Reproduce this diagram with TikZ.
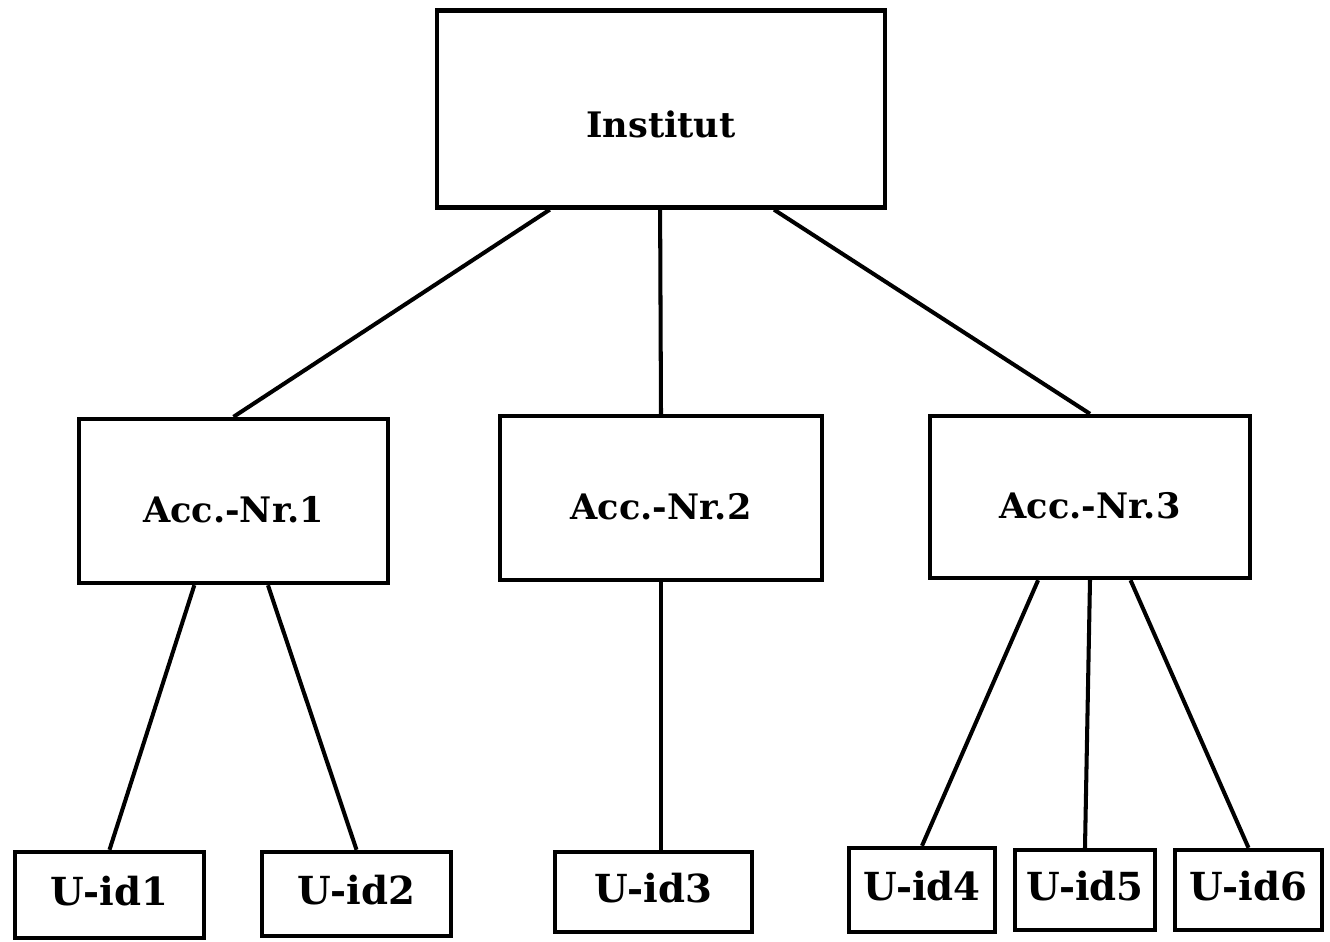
\documentclass[tikz,border=0pt]{standalone}
\usepackage{fontspec}
\setmainfont{DejaVu Serif}
\usetikzlibrary{calc}

\newcommand{\boxtext}[2]{\raisebox{#1}[0pt][0pt]{#2}}

\tikzset{
  box/.style={draw,line width=2.5pt,inner sep=0pt,font=\fontsize{20}{24}\selectfont\bfseries},
  uidbox/.style={box,font=\fontsize{22}{26}\selectfont\bfseries},
  link/.style={line width=2.3pt}
}

\begin{document}
\begin{tikzpicture}[x=0.02cm,y=-0.02cm]
   \useasboundingbox (0,0) rectangle (1330,941);
   \node[box] (inst) [minimum width=8.96cm,minimum height=3.94cm] at (661,109) {\boxtext{-0.56cm}{Institut}};
   \node[box] (acc1) [minimum width=6.18cm,minimum height=3.28cm] at (233.5,501) {\boxtext{-0.42cm}{Acc.-Nr.1}};
   \node[box] (acc2) [minimum width=6.44cm,minimum height=3.28cm] at (661,498) {\boxtext{-0.42cm}{Acc.-Nr.2}};
   \node[box] (acc3) [minimum width=6.40cm,minimum height=3.24cm] at (1090,497) {\boxtext{-0.42cm}{Acc.-Nr.3}};
   \node[uidbox] (uid1) [minimum width=3.78cm,minimum height=1.72cm] at (109.5,895) {\boxtext{-0.2cm}{U-id1}};
   \node[uidbox] (uid2) [minimum width=3.78cm,minimum height=1.68cm] at (356.5,894) {\boxtext{-0.2cm}{U-id2}};
   \node[uidbox] (uid3) [minimum width=3.94cm,minimum height=1.60cm] at (653.5,892) {\boxtext{-0.2cm}{U-id3}};
   \node[uidbox] (uid4) [minimum width=2.92cm,minimum height=1.68cm] at (922,890) {\boxtext{-0.2cm}{U-id4}};
   \node[uidbox] (uid5) [minimum width=2.80cm,minimum height=1.60cm] at (1085,890) {\boxtext{-0.2cm}{U-id5}};
   \node[uidbox] (uid6) [minimum width=2.94cm,minimum height=1.60cm] at (1248.5,890) {\boxtext{-0.2cm}{U-id6}};
   % Institut to accounts
   \draw[link] ($(inst.south west)!0.254!(inst.south east)$) -- (acc1.north);
   \draw[link] ($(inst.south west)!0.498!(inst.south east)$) -- (acc2.north);
   \draw[link] ($(inst.south west)!0.75!(inst.south east)$) -- (acc3.north);
   % accounts to users
   \draw[link] ($(acc1.south west)!0.375!(acc1.south east)$) -- (uid1.north);
   \draw[link] ($(acc1.south west)!0.61!(acc1.south east)$) -- (uid2.north);
   \draw[link] (acc2.south) -- (acc2.south |- uid3.north);
   \draw[link] ($(acc3.south west)!0.34!(acc3.south east)$) -- (uid4.north);
   \draw[link] (acc3.south) -- (uid5.north);
   \draw[link] ($(acc3.south west)!0.625!(acc3.south east)$) -- (uid6.north);
\end{tikzpicture}
\end{document}
